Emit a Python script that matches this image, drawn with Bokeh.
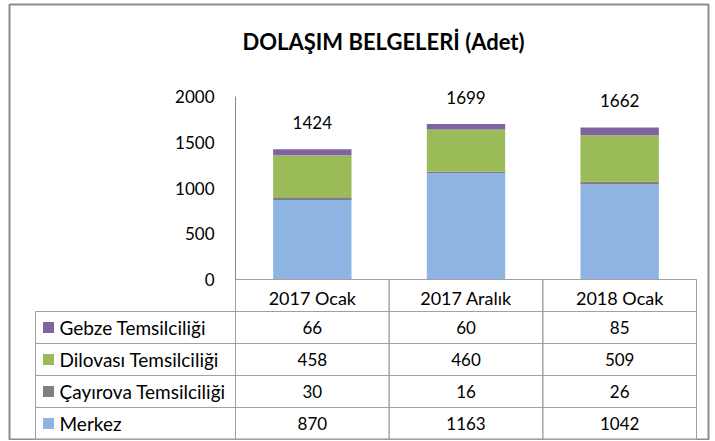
from bokeh.plotting import figure
from bokeh.models import Range1d, LinearAxis, FixedTicker, Label, ColumnDataSource
from bokeh.core.properties import value
from bokeh.embed import file_html
from bokeh.resources import INLINE

# ---- data ----
categories = ["2017 Ocak", "2017 Aralık", "2018 Ocak"]
series_names = ["Gebze Temsilciliği", "Dilovası Temsilciliği", "Çayırova Temsilciliği", "Merkez"]
merkez = [870, 1163, 1042]
cayirova = [30, 16, 26]
dilovasi = [458, 460, 509]
gebze = [66, 60, 85]
y_ticks = [0, 500, 1000, 1500, 2000]
title_text = "DOLAŞIM BELGELERİ (Adet)"

colors = {"Merkez": "#8EB4E3", "Çayırova Temsilciliği": "#7F7F7F",
          "Dilovası Temsilciliği": "#9BBB59", "Gebze Temsilciliği": "#8064A2"}
FONT = "Lato"
GRID = "#A0A0A0"

# ---- layout constants (pixels on the page; figure sits at page (0, 0)) ----
W, H = 710, 440
FR_L, FR_R, FR_T, FR_B = 9, 708, 4, 440   # frame edges in page px
X0 = 235                         # page x of the chart's left edge (y axis)
PX_X = 461 / 3                   # px per category
Y0 = 279                         # page y of value 0
PX_Y = 183 / 2000                # px per unit of value
ROW = 32                         # table row height
T0 = 439                         # page y of bottom of last table row
LABEL_LEFT = (35 - X0) / PX_X    # left edge of the label column (data units)

xs = [i + 0.5 for i in range(len(categories))]
totals = [a + b + c + d for a, b, c, d in zip(merkez, cayirova, dilovasi, gebze)]

p = figure(width=W, height=H, output_backend="svg", toolbar_location=None,
           x_range=Range1d((FR_L - X0) / PX_X, (FR_R - X0) / PX_X),
           y_range=Range1d(-(FR_B - Y0) / PX_Y, (Y0 - FR_T) / PX_Y),
           min_border=0, min_border_left=FR_L, min_border_right=W - FR_R,
           min_border_top=FR_T, min_border_bottom=H - FR_B,
           x_axis_type=None, y_axis_type=None)
p.extra_y_ranges = {"table": Range1d(-(FR_B - T0) / ROW, (T0 - FR_T) / ROW)}
p.outline_line_color = "#8C8C8C"
p.outline_line_width = 2
p.xgrid.visible = False
p.ygrid.visible = False

# ---- stacked bars ----
src = ColumnDataSource(dict(x=xs, merkez=merkez, cayirova=cayirova, dilovasi=dilovasi,
                            gebze=gebze, total=totals, total_s=[str(t) for t in totals]))
p.vbar_stack(["merkez", "cayirova", "dilovasi", "gebze"], x="x", width=0.51, source=src,
             color=[colors["Merkez"], colors["Çayırova Temsilciliği"],
                    colors["Dilovası Temsilciliği"], colors["Gebze Temsilciliği"]],
             line_color=None)
p.text(x="x", y="total", text="total_s", source=src, y_offset=-27,
       text_align="center", text_baseline="middle", text_font=value(FONT),
       text_font_size="17px", text_color="black")

# ---- axes ----
yax = LinearAxis(ticker=FixedTicker(ticks=y_ticks), fixed_location=0, bounds=(0, 2000))
yax.axis_line_color = "#868686"
yax.major_tick_out = 0
yax.major_tick_in = 0
yax.minor_tick_out = 0
yax.minor_tick_in = 0
yax.major_label_standoff = 21
yax.major_label_text_font = FONT
yax.major_label_text_font_size = "17px"
yax.major_label_text_color = "black"
p.add_layout(yax, "left")

xax = LinearAxis(ticker=FixedTicker(ticks=xs, minor_ticks=[]), fixed_location=0,
                 bounds=(0, len(categories)))
xax.major_label_overrides = {x: c for x, c in zip(xs, categories)}
xax.axis_line_color = GRID
xax.major_tick_out = 0
xax.major_tick_in = 0
xax.minor_tick_out = 0
xax.minor_tick_in = 0
xax.major_label_standoff = 7
xax.major_label_text_font = FONT
xax.major_label_text_font_size = "18px"
xax.major_label_text_color = "black"
p.add_layout(xax, "below")

# ---- title ----
p.add_layout(Label(x=0, y=(Y0 - 41) / PX_Y, x_offset=7, text=title_text,
                   text_align="left", text_baseline="middle",
                   text_font=FONT, text_font_style="bold", text_font_size="22px",
                   text_color="black"))

# ---- data table ----
rows = [gebze, dilovasi, cayirova, merkez]
n_rows = len(rows)
header_top = (T0 - Y0) / ROW

left, right, top, bottom = [], [], [], []
for c in range(len(categories)):
    left.append(c); right.append(c + 1); top.append(header_top); bottom.append(n_rows)
edges = [LABEL_LEFT] + list(range(len(categories) + 1))
for r in range(n_rows):
    ytop = n_rows - r
    for c in range(len(edges) - 1):
        left.append(edges[c]); right.append(edges[c + 1])
        top.append(ytop); bottom.append(ytop - 1)
p.quad(left=left, right=right, top=top, bottom=bottom, fill_color=None,
       line_color=GRID, line_width=1, y_range_name="table")

row_y = [n_rows - r - 0.5 for r in range(n_rows)]
p.scatter(x=[LABEL_LEFT + 13 / PX_X] * n_rows, y=row_y, marker="square", size=11,
          color=[colors[s] for s in series_names], line_color=None, y_range_name="table")
p.text(x=[LABEL_LEFT] * n_rows, y=row_y, text=series_names, x_offset=24,
       text_align="left", text_baseline="middle", text_font=value(FONT),
       text_font_size="19px", text_color="black", y_range_name="table")

vx, vy, vt = [], [], []
for r, vals in enumerate(rows):
    for c, v in enumerate(vals):
        vx.append(xs[c]); vy.append(row_y[r]); vt.append(str(v))
p.text(x=vx, y=vy, text=vt, text_align="center", text_baseline="middle",
       text_font=value(FONT), text_font_size="17px", text_color="black",
       y_range_name="table")

open("out.html", "w").write(file_html(p, INLINE))
